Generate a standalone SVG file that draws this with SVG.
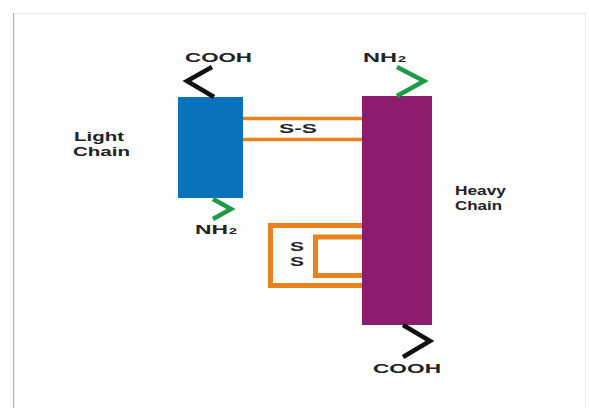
<svg xmlns="http://www.w3.org/2000/svg" width="589" height="408" viewBox="0 0 589 408">
<style>
.lbl{font-family:"Liberation Sans",Arial,sans-serif;font-weight:bold;fill:#222;font-size:13px}
.ss{fill:none;stroke:#e8821e}
.zz{fill:none;stroke-width:4.5;stroke-linejoin:miter;stroke-linecap:butt}
</style>
<rect width="589" height="408" fill="#fff"/>
<rect x="13.5" y="13.5" width="572" height="400" fill="#fdfdfd" stroke="#ececec"/>
<line x1="13.5" y1="13" x2="13.5" y2="408" stroke="#b0b0b0" stroke-width="1.2"/>
<g id="connectors">
  <line class="ss" x1="243" y1="118.5" x2="362" y2="118.5" stroke-width="3.5"/>
  <line class="ss" x1="243" y1="139.5" x2="362" y2="139.5" stroke-width="3.5"/>
  <path class="ss" d="M362 225.5 H270.5 V285.5 H362" stroke-width="5"/>
  <path class="ss" d="M362 237 H315.5 V275.5 H362" stroke-width="5"/>
</g>
<g id="light-chain">
  <rect x="178" y="97" width="65" height="101" fill="#0a72ba"/>
  <text class="lbl" x="74" y="141" textLength="50" lengthAdjust="spacingAndGlyphs">Light</text>
  <text class="lbl" x="73" y="156" textLength="57" lengthAdjust="spacingAndGlyphs">Chain</text>
</g>
<g id="heavy-chain">
  <rect x="362" y="96" width="70" height="229" fill="#8c1c6e"/>
  <text class="lbl" x="455" y="195" textLength="51" lengthAdjust="spacingAndGlyphs">Heavy</text>
  <text class="lbl" x="455" y="210" textLength="47" lengthAdjust="spacingAndGlyphs">Chain</text>
</g>
<g id="light-cooh">
  <path class="zz" d="M212 67 L187 81 L214 97" stroke="#111"/>
  <text class="lbl" x="185" y="62" textLength="67" lengthAdjust="spacingAndGlyphs">COOH</text>
</g>
<g id="heavy-nh2">
  <path class="zz" d="M397 67 L424 81 L397 96" stroke="#1e9a48"/>
  <text class="lbl" x="363" y="62" textLength="34" lengthAdjust="spacingAndGlyphs">NH</text>
  <text class="lbl" x="398" y="62" style="font-size:9px" textLength="8" lengthAdjust="spacingAndGlyphs">2</text>
</g>
<g id="light-nh2">
  <path class="zz" d="M213 199 L231 209 L213 219" stroke="#1e9a48"/>
  <text class="lbl" x="195" y="234" textLength="33" lengthAdjust="spacingAndGlyphs">NH</text>
  <text class="lbl" x="229" y="234" style="font-size:9px" textLength="8" lengthAdjust="spacingAndGlyphs">2</text>
</g>
<g id="heavy-cooh">
  <path class="zz" d="M403 325 L430 341 L403 357" stroke="#111"/>
  <text class="lbl" x="373" y="373" textLength="68" lengthAdjust="spacingAndGlyphs">COOH</text>
</g>
<g id="ss-labels">
  <text class="lbl" x="279" y="133" textLength="38" lengthAdjust="spacingAndGlyphs">S-S</text>
  <text class="lbl" x="290" y="251" textLength="14" lengthAdjust="spacingAndGlyphs">S</text>
  <text class="lbl" x="290" y="266" textLength="14" lengthAdjust="spacingAndGlyphs">S</text>
</g>
</svg>
